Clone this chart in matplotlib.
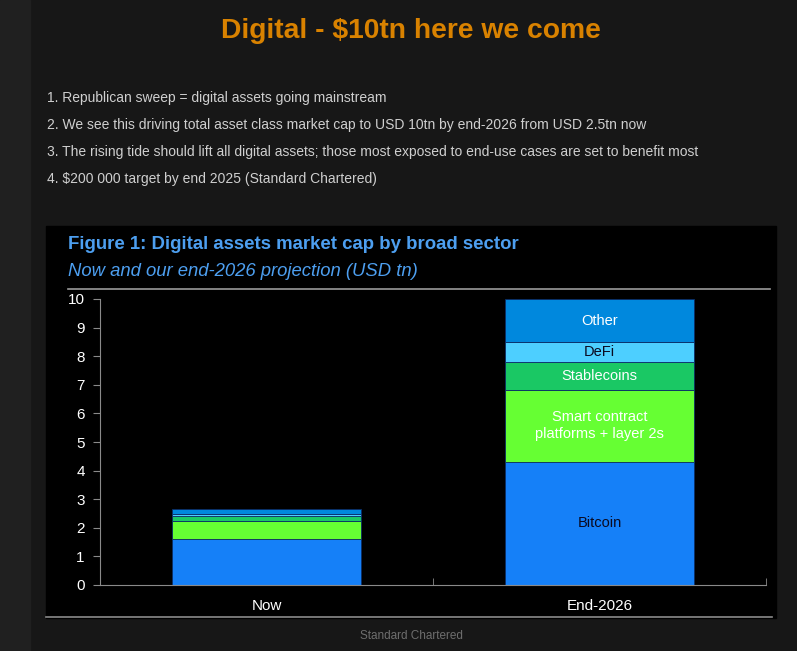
import matplotlib.pyplot as plt
from matplotlib.patches import Rectangle
from matplotlib.lines import Line2D

# data (USD tn)
periods = ["Now", "End-2026"]
sectors = ["Bitcoin", "Smart contract\nplatforms + layer 2s", "Stablecoins", "DeFi", "Other"]
values = {
    "Bitcoin": [1.61, 4.31],
    "Smart contract\nplatforms + layer 2s": [0.64, 2.51],
    "Stablecoins": [0.17, 0.98],
    "DeFi": [0.06, 0.69],
    "Other": [0.19, 1.51],
}
colors = ["#1580f8", "#66ff33", "#1ac864", "#4dcfff", "#0088dd"]
label_colors = ["#0a0a20", "white", "white", "#0a0a20", "white"]
bullets = [
    "1. Republican sweep = digital assets going mainstream",
    "2. We see this driving total asset class market cap to USD 10tn by end-2026 from USD 2.5tn now",
    "3. The rising tide should lift all digital assets; those most exposed to end-use cases are set to benefit most",
    "4. $200 000 target by end 2025 (Standard Chartered)",
]

W, H = 797, 651
fig = plt.figure(figsize=(W / 100, H / 100), dpi=100)
fig.patch.set_facecolor("#171717")

def fx(px):
    return px / W

def fy(py):
    return 1 - py / H

sans = ["Liberation Sans", "DejaVu Sans"]
narrow = ["Liberation Sans Narrow", "Liberation Sans", "DejaVu Sans"]

# page decoration
fig.add_artist(Rectangle((0, 0), fx(30), 1, transform=fig.transFigure, color="#202020", zorder=0))
fig.add_artist(Rectangle((fx(46), fy(618)), fx(776 - 46), (618 - 226) / H,
                         transform=fig.transFigure, color="black", zorder=0))
fig.add_artist(Line2D([fx(68), fx(770)], [fy(289), fy(289)], transform=fig.transFigure, color="#9a9a9a", lw=1.2))
fig.add_artist(Line2D([fx(46), fx(772)], [fy(617), fy(617)], transform=fig.transFigure, color="#8a8a8a", lw=1.2))

fig.text(fx(411), fy(31), "Digital - $10tn here we come", color="#d98200", fontsize=20.3,
         fontweight="bold", ha="center", va="center", family=sans)
for i, line in enumerate(bullets):
    fig.text(fx(47), fy(98 + 27 * i), line, color="#cfcfcf", fontsize=10, ha="left", va="center", family=sans)

fig.text(fx(68), fy(244), "Figure 1: Digital assets market cap by broad sector", color="#4d9ff0",
         fontsize=13.4, fontweight="bold", ha="left", va="center", family=sans)
fig.text(fx(68), fy(272), "Now and our end-2026 projection (USD tn)", color="#4d9ff0",
         fontsize=13.3, style="italic", ha="left", va="center", family=sans)
fig.text(fx(411), fy(636), "Standard Chartered", color="#6e6e6e", fontsize=8.5, ha="center", va="center", family=sans)

# chart
ax = fig.add_axes([fx(100), fy(585), fx(666), 286 / H])
ax.set_facecolor("black")
xpos = [0.5, 1.5]
bottom = [0, 0]
for s, c, lc in zip(sectors, colors, label_colors):
    v = values[s]
    ax.bar(xpos, v, width=0.57, bottom=bottom, color=c, edgecolor="#0b2d66", linewidth=0.6)
    ax.text(xpos[1], bottom[1] + v[1] / 2, s, color=lc, fontsize=10.5, ha="center", va="center",
            family=narrow, linespacing=1.3)
    bottom = [b + x for b, x in zip(bottom, v)]

ax.set_xlim(0, 2)
ax.set_ylim(0, 10)
ax.set_yticks(range(0, 11))
ax.set_xticks(xpos)
ax.set_xticklabels(periods, family=narrow)
ax.set_xticks([0, 1, 2], minor=True)
ax.tick_params(axis="x", which="major", length=0, colors="white", labelsize=11, pad=10)
ax.tick_params(axis="x", which="minor", direction="in", length=5, color="#8a8a8a")
ax.tick_params(axis="y", direction="out", length=5, color="#8a8a8a", labelcolor="white", labelsize=11, pad=6)
for lab in ax.get_yticklabels():
    lab.set_family(narrow)
for sp in ["top", "right"]:
    ax.spines[sp].set_visible(False)
ax.spines["left"].set_color("#8a8a8a")
ax.spines["bottom"].set_color("#8a8a8a")

fig.savefig("out.png", dpi=100, facecolor=fig.get_facecolor())
